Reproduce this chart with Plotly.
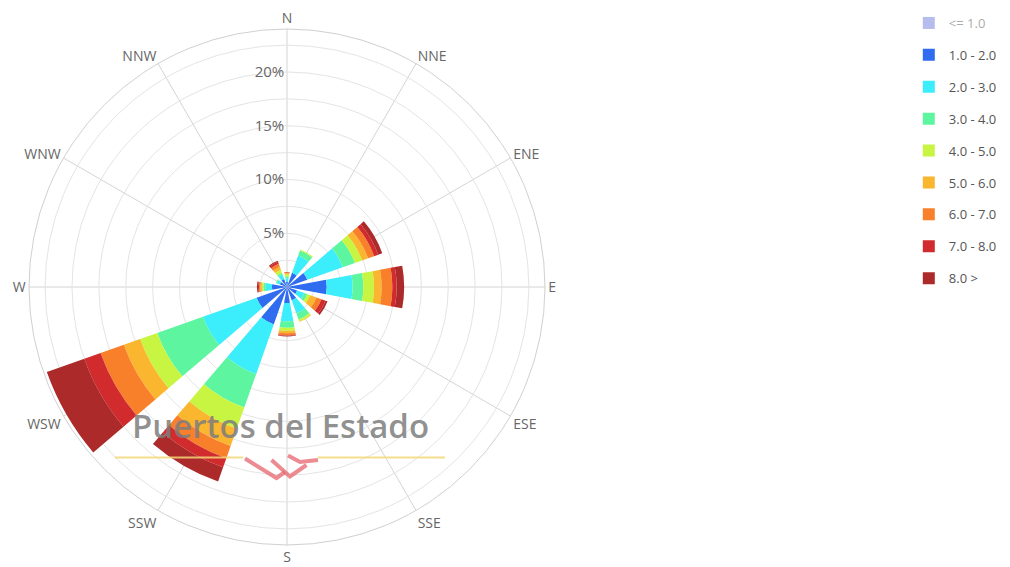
import plotly.graph_objects as go

directions = ["N", "NNE", "ENE", "E", "ESE", "SSE", "S", "SSW", "WSW", "W", "WNW", "NNW"]

speed_bins = ["<= 1.0", "1.0 - 2.0", "2.0 - 3.0", "3.0 - 4.0", "4.0 - 5.0",
              "5.0 - 6.0", "6.0 - 7.0", "7.0 - 8.0", "8.0 >"]
bin_colors = ["#6f7bd8", "#2f6cef", "#3cedfb", "#5ef5a0", "#c8f542",
              "#fab62f", "#f8802b", "#d22b2d", "#ad2a2b"]

# frequency (%) per direction for each speed bin
v_le1 = [0.4, 0.5, 0.6, 0.6, 0.5, 0.5, 0.5, 0.7, 0.7, 0.5, 0.4, 0.4]
v_1_2 = [0.5, 1.4, 2.0, 3.7, 1.0, 1.3, 1.5, 3.7, 3.0, 1.4, 0.7, 0.8]
v_2_3 = [0.3, 1.7, 3.5, 2.4, 0.7, 1.3, 1.7, 4.9, 5.3, 0.6, 0.3, 0.4]
v_3_4 = [0.2, 0.5, 1.2, 1.0, 0.3, 0.6, 0.6, 3.3, 4.5, 0.2, 0.1, 0.2]
v_4_5 = [0.2, 0.1, 0.7, 1.0, 0.3, 0.2, 0.3, 2.1, 1.7, 0.15, 0.0, 0.3]
v_5_6 = [0.1, 0.0, 0.6, 0.7, 0.6, 0.05, 0.2, 1.7, 1.6, 0.15, 0.0, 0.3]
v_6_7 = [0.05, 0.0, 0.6, 1.0, 0.5, 0.0, 0.2, 1.2, 2.3, 0.1, 0.0, 0.3]
v_7_8 = [0.05, 0.0, 0.4, 0.4, 0.4, 0.0, 0.05, 0.9, 1.6, 0.1, 0.0, 0.2]
v_8p = [0.0, 0.0, 0.4, 0.7, 0.2, 0.0, 0.05, 1.4, 3.7, 0.1, 0.0, 0.1]

series = [v_le1, v_1_2, v_2_3, v_3_4, v_4_5, v_5_6, v_6_7, v_7_8, v_8p]

radial_ticks = [0, 2.5, 5, 7.5, 10, 12.5, 15, 17.5, 20, 22.5]
radial_labels = ["", "", "5%", "", "10%", "", "15%", "", "20%", ""]

fig = go.Figure()
for i, (name, vals, col) in enumerate(zip(speed_bins, series, bin_colors)):
    fig.add_trace(go.Barpolar(
        r=vals, theta=directions, name=name,
        marker=dict(color=col, line=dict(width=0)),
        legendgroup=name,
        visible="legendonly" if i == 0 else True,
        hoverinfo="skip",
    ))

# the page body adds an 8px margin around the figure
OFF = 8
W, H = 1010 - OFF, 567 - OFF
cx, cy, R = 287 - OFF, 287 - OFF, 258


def px(x):
    return (x - OFF) / W


def py(y):
    return 1 - (y - OFF) / H


fig.update_layout(
    width=W, height=H,
    margin=dict(l=0, r=0, t=0, b=0),
    paper_bgcolor="white",
    font=dict(family="Open Sans, Noto Sans, sans-serif", color="#666666", size=13),
    polar=dict(
        domain=dict(x=[(cx - R) / W, (cx + R) / W], y=[1 - (cy + R) / H, 1 - (cy - R) / H]),
        bgcolor="white",
        bargap=0.3,
        angularaxis=dict(
            rotation=90, direction="clockwise",
            categoryorder="array", categoryarray=directions,
            showline=True, linecolor="#d0d0d0", linewidth=1,
            gridcolor="#d4d4d4", gridwidth=1,
            ticks="", tickfont=dict(size=14, color="#666666"),
        ),
        radialaxis=dict(
            range=[0, 24], angle=90, tickangle=90,
            tickmode="array", tickvals=radial_ticks, ticktext=radial_labels,
            showline=False, ticks="",
            gridcolor="#e4e4e4", gridwidth=1,
            tickfont=dict(size=15, color="#666666"),
            side="counterclockwise",
        ),
    ),
    legend=dict(
        x=0.899, y=1.0, xanchor="left", yanchor="top",
        font=dict(size=13, color="#555555"),
        tracegroupgap=12, traceorder="grouped",
        bgcolor="rgba(0,0,0,0)",
    ),
    showlegend=True,
)

# watermark
fig.add_annotation(
    x=px(280), y=py(425), xref="paper", yref="paper",
    text="Puertos del Estado", showarrow=False,
    font=dict(family="Open Sans, Noto Sans, sans-serif", size=33, weight=600,
              color="rgba(125,125,125,0.85)"),
    xanchor="center", yanchor="middle",
)
for x0, x1 in [(115, 243), (318, 445)]:
    fig.add_shape(type="line", xref="paper", yref="paper",
                  x0=px(x0), x1=px(x1), y0=py(457.5), y1=py(457.5),
                  line=dict(color="rgba(245,215,120,0.85)", width=2))
logo_paths = [
    [(245, 458.5), (276.5, 478), (285, 472)],
    [(271.5, 460), (290, 476.5), (306.5, 465)],
    [(288, 455.5), (300, 462), (318, 460)],
]
for pts in logo_paths:
    d = "M " + " L ".join(f"{px(x)} {py(y)}" for x, y in pts)
    fig.add_shape(type="path", xref="paper", yref="paper", path=d,
                  line=dict(color="rgba(230,100,110,0.75)", width=4))

fig.write_html("out.html")
